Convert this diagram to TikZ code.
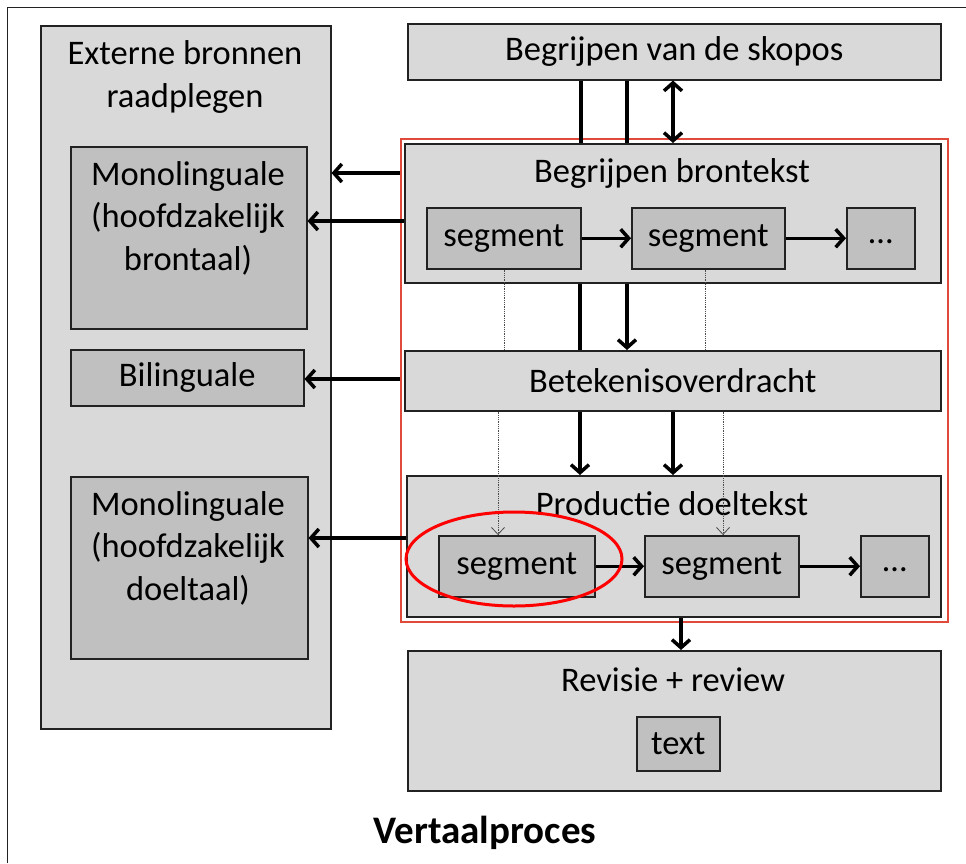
\documentclass[tikz,border=0pt]{standalone}
\usepackage{fontspec}
\setmainfont{Carlito}
\usetikzlibrary{arrows.meta,calc}
\definecolor{lg}{HTML}{D9D9D9}
\definecolor{dg}{HTML}{C0C0C0}
\definecolor{bd}{HTML}{222222}
\definecolor{rd}{HTML}{E04A3A}
\tikzset{
  box/.style={draw=bd, line width=1.5pt, fill=lg, inner sep=0pt, anchor=north west,
    font=\fontsize{34.5}{42}\selectfont},
  ibox/.style={box, fill=dg},
  sz/.style 2 args={minimum width=#1pt, minimum height=#2pt},
  txt/.style={font=\fontsize{34.5}{42.5}\selectfont, align=center, inner sep=0pt},
  ttl/.style={font=\fontsize{39}{46}\selectfont\bfseries, inner sep=0pt},
  conn/.style={line width=3.5pt},
  arr/.style={conn, -{Straight Barb[length=8pt,width=18pt]}},
  dbl/.style={conn, {Straight Barb[length=8pt,width=18pt]}-{Straight Barb[length=8pt,width=18pt]}},
  thin/.style={draw=gray!60!black, line width=0.8pt, densely dotted},
  thinarr/.style={thin, -{Straight Barb[length=7pt,width=13pt,line width=0.8pt]}}
}
\begin{document}
\begin{tikzpicture}[x=1pt,y=-1pt]
\useasboundingbox (0,0) rectangle (966,863);
\fill[white] (0,0) rectangle (966,863);
\draw[bd, line width=1pt] (7,863) -- (7,7) -- (966,7);

% left column
\node[box, sz={290}{703}] (ext) at (40,25) {};
\node[txt] (extt) at (185,77) {Externe bronnen\\raadplegen};
\node[ibox, sz={236}{182}] (mono1) at (70,146) {};
\node[txt] (mono1t) at (188,218) {Monolinguale\\(hoofdzakelijk\\brontaal)};
\node[ibox, sz={233}{56}] (bil) at (70,349) {Bilinguale};
\node[ibox, sz={237}{182}] (mono2) at (70,476) {};
\node[txt] (mono2t) at (188,548) {Monolinguale\\(hoofdzakelijk\\doeltaal)};

% right column
\node[box, sz={533}{56}] (sk) at (407,23) {Begrijpen van de skopos};
\node[draw=rd, line width=1.6pt, inner sep=0pt, anchor=north west, minimum width=547pt, minimum height=483pt] (red) at (400,138) {};
\node[box, sz={536}{139}] (bb) at (404,143) {};
\node[txt] (bbt) at (672,173) {Begrijpen brontekst};
\node[ibox, sz={154}{61}] (s1) at (426,207) {segment};
\node[ibox, sz={153}{61}] (s2) at (631,207) {segment};
\node[ibox, sz={68}{61}] (d1) at (846,207) {\smash{\raisebox{-5pt}{\dots}}};
\node[box, sz={536}{60}] (bo) at (404,350) {Betekenisoverdracht};
\node[box, sz={534}{141}] (pd) at (406,475) {};
\node[txt] (pdt) at (672,504) {Productie doeltekst};
\node[ibox, sz={156}{61}] (s3) at (438,535) {segment};
\node[ibox, sz={154}{61}] (s4) at (644,535) {segment};
\node[ibox, sz={68}{61}] (d2) at (860,535) {\smash{\raisebox{-5pt}{\dots}}};
\node[box, sz={533}{140}] (rv) at (407,650) {};
\node[txt] (rvt) at (673,680) {Revisie + review};
\node[ibox, sz={83}{54}] (tx) at (636,716) {text};

\node[ttl] (title) at (485,833) {Vertaalproces};

% connectors skopos -> brontekst
\draw[conn] (581,0 |- sk.south) -- (581,0 |- bb.north);
\draw[conn] (627,0 |- sk.south) -- (627,0 |- bb.north);
\draw[dbl] (673,0 |- sk.south) -- (673,0 |- bb.north);

% left arrows
\draw[arr] (red.west |- 0,173) -- (ext.east |- 0,173);
\draw[arr] (bb.west |- 0,221) -- (mono1.east |- 0,221);
\draw[arr] (red.west |- 0,379) -- (bil.east |- 0,379);
\draw[arr] (pd.west |- 0,538) -- (mono2.east |- 0,538);

% segments
\draw[arr] (s1.east) -- (s2.west);
\draw[arr] (s2.east) -- (d1.west);
\draw[arr] (s3.east) -- (s4.west);
\draw[arr] (s4.east) -- (d2.west);

% brontekst -> betekenis
\draw[conn] (580,0 |- bb.south) -- (580,0 |- bo.north);
\draw[arr] (627,0 |- bb.south) -- (627,0 |- bo.north);
\draw[thin] (504,0 |- s1.south) -- (504,0 |- bo.north);
\draw[thin] (705,0 |- s2.south) -- (705,0 |- bo.north);

% betekenis -> productie
\draw[arr] (580,0 |- bo.south) -- (580,0 |- pd.north);
\draw[arr] (673,0 |- bo.south) -- (673,0 |- pd.north);
\draw[thinarr] (498,0 |- bo.south) -- (498,0 |- s3.north);
\draw[thinarr] (723,0 |- bo.south) -- (723,0 |- s4.north);

% productie -> revisie
\draw[arr] (681,0 |- pd.south) -- (681,0 |- rv.north);

% highlight
\draw[red, line width=3pt] (514,559) ellipse [x radius=108, y radius=47];
\end{tikzpicture}
\end{document}
